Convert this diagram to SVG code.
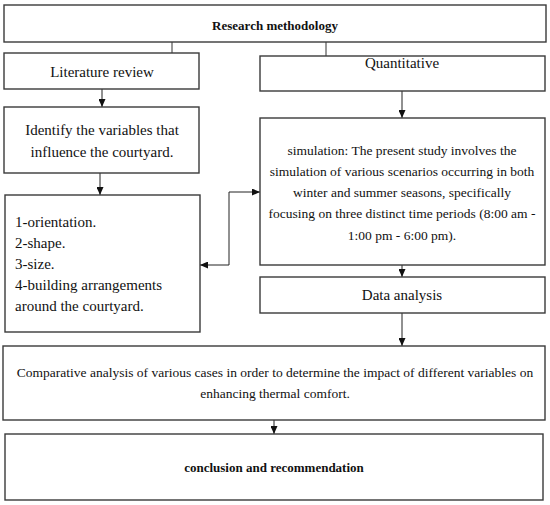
<svg xmlns="http://www.w3.org/2000/svg" width="550" height="505" viewBox="0 0 550 505">
<defs>
<marker id="ah" viewBox="0 0 8 7" refX="8" refY="3.5" markerWidth="8" markerHeight="7" markerUnits="userSpaceOnUse" orient="auto-start-reverse">
<path d="M0,0 L8,3.5 L0,7 z" fill="#111"/>
</marker>
</defs>
<style>
.box{fill:#fff;stroke:#3a3a3a;stroke-width:1.4}
.t{font-family:"Liberation Serif","Times New Roman",serif;font-size:15px;fill:#111}
.s{font-family:"Liberation Serif","Times New Roman",serif;font-size:13.5px;fill:#111}
.b{font-family:"Liberation Serif","Times New Roman",serif;font-size:13px;font-weight:bold;fill:#111}
.c{text-anchor:middle}
.ln{fill:none;stroke:#333;stroke-width:1}
.ar{fill:none;stroke:#222;stroke-width:1;marker-end:url(#ah)}
</style>
<rect width="550" height="505" fill="#fff"/>
<g id="connectors">
<line class="ln" x1="172" y1="42" x2="172" y2="53"/>
<line class="ln" x1="326" y1="42" x2="326" y2="56"/>
<line class="ar" x1="102" y1="89" x2="102" y2="107"/>
<line class="ar" x1="100" y1="173" x2="100" y2="195"/>
<line class="ar" x1="402" y1="91" x2="402" y2="118"/>
<line class="ar" x1="402" y1="265" x2="402" y2="277"/>
<line class="ar" x1="402" y1="313" x2="402" y2="346"/>
<line class="ar" x1="274" y1="420" x2="274" y2="434"/>
<path class="ar" d="M200,265 H229 V192 H260" marker-start="url(#ah)"/>
</g>
<g id="research-methodology">
<rect class="box" x="4" y="5" width="542" height="37"/>
<text class="b c" x="275" y="30">Research methodology</text>
</g>
<g id="literature-review">
<rect class="box" x="4" y="53" width="195" height="36"/>
<text class="t c" x="102" y="77">Literature review</text>
</g>
<g id="quantitative">
<rect class="box" x="260" y="56" width="285" height="35"/>
<text class="t c" x="402" y="68">Quantitative</text>
</g>
<g id="identify-variables">
<rect class="box" x="4" y="107" width="195" height="66"/>
<text class="t c" x="102" y="135">Identify the variables that</text>
<text class="t c" x="102" y="157">influence the courtyard.</text>
</g>
<g id="variables-list">
<rect class="box" x="5" y="195" width="195" height="137"/>
<text class="t" x="15" y="227">1-orientation.</text>
<text class="t" x="15" y="248">2-shape.</text>
<text class="t" x="15" y="269">3-size.</text>
<text class="t" x="15" y="290">4-building arrangements</text>
<text class="t" x="15" y="311">around the courtyard.</text>
</g>
<g id="simulation">
<rect class="box" x="260" y="118" width="285" height="147"/>
<text class="s c" x="402" y="155">simulation: The present study involves the</text>
<text class="s c" x="402" y="176">simulation of various scenarios occurring in both</text>
<text class="s c" x="402" y="197">winter and summer seasons, specifically</text>
<text class="s c" x="402" y="218">focusing on three distinct time periods (8:00 am -</text>
<text class="s c" x="402" y="240">1:00 pm - 6:00 pm).</text>
</g>
<g id="data-analysis">
<rect class="box" x="260" y="277" width="285" height="36"/>
<text class="t c" x="402" y="300">Data analysis</text>
</g>
<g id="comparative-analysis">
<rect class="box" x="3" y="346" width="542" height="74"/>
<text class="s c" x="275" y="377">Comparative analysis of various cases in order to determine the impact of different variables on</text>
<text class="s c" x="275" y="398">enhancing thermal comfort.</text>
</g>
<g id="conclusion">
<rect class="box" x="5" y="434" width="538" height="66"/>
<text class="b c" x="274" y="472">conclusion and recommendation</text>
</g>
</svg>
